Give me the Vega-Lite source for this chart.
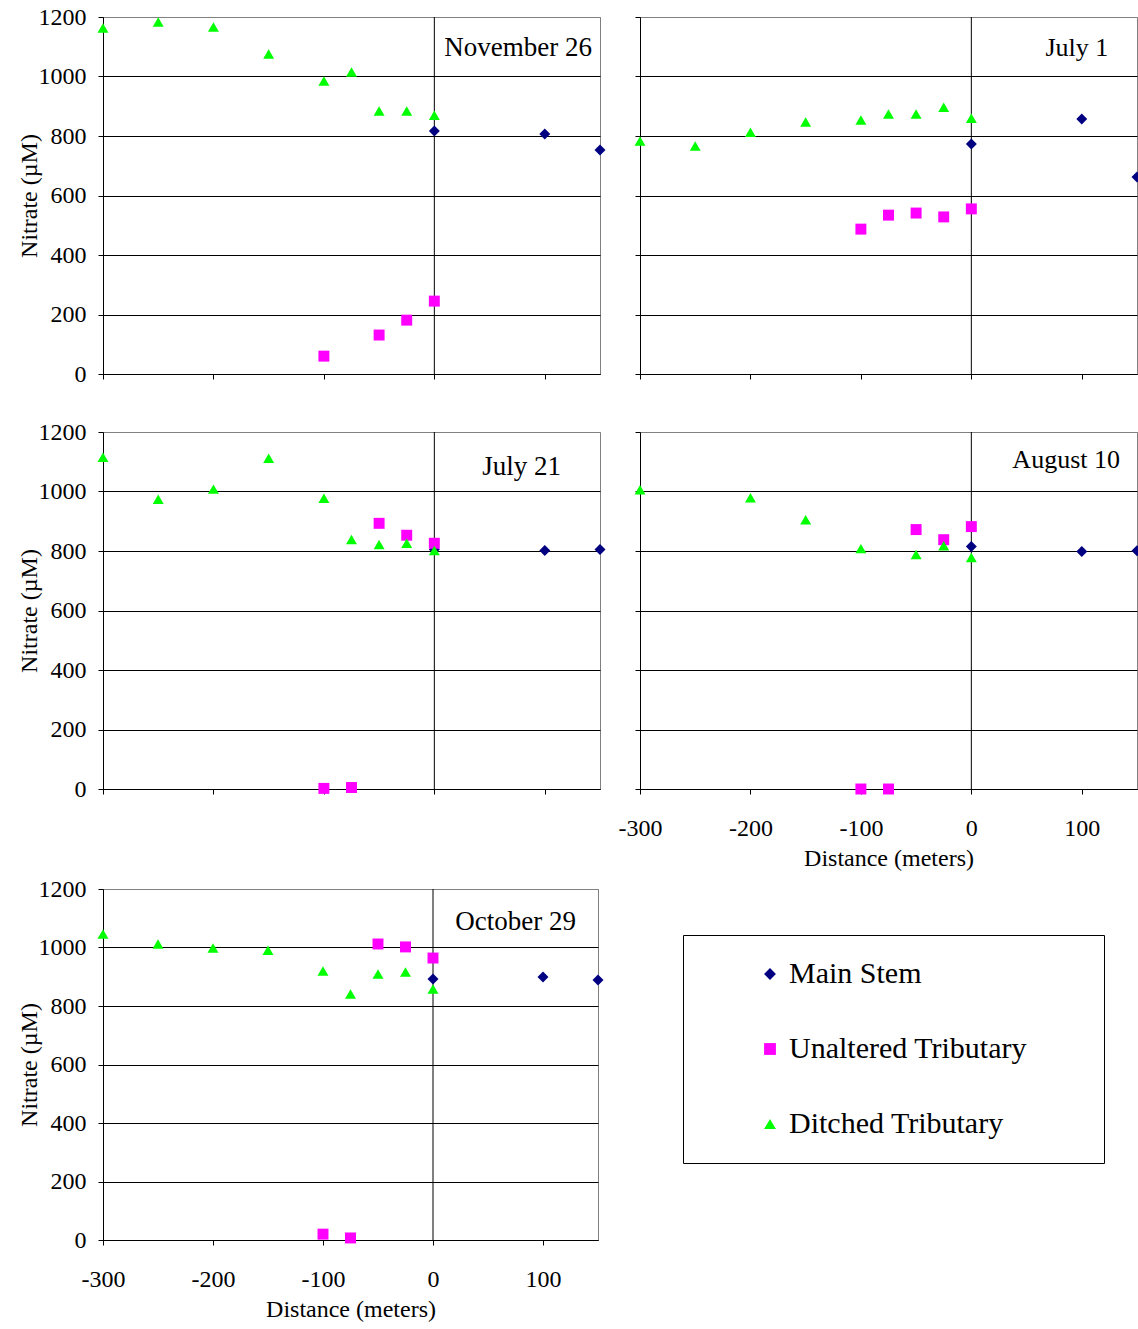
{
  "$schema": "https://vega.github.io/schema/vega-lite/v6.json",
  "background": "white",
  "padding": {"left": 16, "top": 4, "right": 0, "bottom": 0},
  "autosize": {"type": "pad"},
  "config": {
    "font": "Liberation Serif",
    "view": {"stroke": "#808080", "strokeWidth": 1},
    "axis": {
      "labelFont": "Liberation Serif", "titleFont": "Liberation Serif",
      "labelFontSize": 24, "titleFontSize": 24, "titleFontWeight": "normal",
      "labelColor": "black", "titleColor": "black",
      "domainColor": "black", "tickColor": "black", "tickSize": 5, "gridColor": "black", "gridOpacity": 1,
      "domainWidth": 1, "tickWidth": 1, "gridWidth": 1, "labelFlush": false, "labelOverlap": false
    }
  },
  "datasets": {
    "nitrate": [
      {"date": "November 26", "series": "Main Stem", "distance": 0, "nitrate": 817},
      {"date": "November 26", "series": "Main Stem", "distance": 100, "nitrate": 807},
      {"date": "November 26", "series": "Main Stem", "distance": 150, "nitrate": 753},
      {"date": "November 26", "series": "Unaltered Tributary", "distance": -100, "nitrate": 60},
      {"date": "November 26", "series": "Unaltered Tributary", "distance": -50, "nitrate": 131},
      {"date": "November 26", "series": "Unaltered Tributary", "distance": -25, "nitrate": 181},
      {"date": "November 26", "series": "Unaltered Tributary", "distance": 0, "nitrate": 245},
      {"date": "November 26", "series": "Ditched Tributary", "distance": -300, "nitrate": 1163},
      {"date": "November 26", "series": "Ditched Tributary", "distance": -250, "nitrate": 1183},
      {"date": "November 26", "series": "Ditched Tributary", "distance": -200, "nitrate": 1166},
      {"date": "November 26", "series": "Ditched Tributary", "distance": -150, "nitrate": 1076},
      {"date": "November 26", "series": "Ditched Tributary", "distance": -100, "nitrate": 985},
      {"date": "November 26", "series": "Ditched Tributary", "distance": -75, "nitrate": 1015},
      {"date": "November 26", "series": "Ditched Tributary", "distance": -50, "nitrate": 884},
      {"date": "November 26", "series": "Ditched Tributary", "distance": -25, "nitrate": 884},
      {"date": "November 26", "series": "Ditched Tributary", "distance": 0, "nitrate": 870},

      {"date": "July 1", "series": "Main Stem", "distance": 0, "nitrate": 773},
      {"date": "July 1", "series": "Main Stem", "distance": 100, "nitrate": 857},
      {"date": "July 1", "series": "Main Stem", "distance": 150, "nitrate": 662},
      {"date": "July 1", "series": "Unaltered Tributary", "distance": -100, "nitrate": 487},
      {"date": "July 1", "series": "Unaltered Tributary", "distance": -75, "nitrate": 534},
      {"date": "July 1", "series": "Unaltered Tributary", "distance": -50, "nitrate": 541},
      {"date": "July 1", "series": "Unaltered Tributary", "distance": -25, "nitrate": 528},
      {"date": "July 1", "series": "Unaltered Tributary", "distance": 0, "nitrate": 555},
      {"date": "July 1", "series": "Ditched Tributary", "distance": -300, "nitrate": 783},
      {"date": "July 1", "series": "Ditched Tributary", "distance": -250, "nitrate": 766},
      {"date": "July 1", "series": "Ditched Tributary", "distance": -200, "nitrate": 813},
      {"date": "July 1", "series": "Ditched Tributary", "distance": -150, "nitrate": 847},
      {"date": "July 1", "series": "Ditched Tributary", "distance": -100, "nitrate": 854},
      {"date": "July 1", "series": "Ditched Tributary", "distance": -75, "nitrate": 874},
      {"date": "July 1", "series": "Ditched Tributary", "distance": -50, "nitrate": 874},
      {"date": "July 1", "series": "Ditched Tributary", "distance": -25, "nitrate": 897},
      {"date": "July 1", "series": "Ditched Tributary", "distance": 0, "nitrate": 860},

      {"date": "July 21", "series": "Main Stem", "distance": 0, "nitrate": 805},
      {"date": "July 21", "series": "Main Stem", "distance": 100, "nitrate": 802},
      {"date": "July 21", "series": "Main Stem", "distance": 150, "nitrate": 805},
      {"date": "July 21", "series": "Unaltered Tributary", "distance": -100, "nitrate": 2},
      {"date": "July 21", "series": "Unaltered Tributary", "distance": -75, "nitrate": 5},
      {"date": "July 21", "series": "Unaltered Tributary", "distance": -50, "nitrate": 893},
      {"date": "July 21", "series": "Unaltered Tributary", "distance": -25, "nitrate": 853},
      {"date": "July 21", "series": "Unaltered Tributary", "distance": 0, "nitrate": 826},
      {"date": "July 21", "series": "Ditched Tributary", "distance": -300, "nitrate": 1115},
      {"date": "July 21", "series": "Ditched Tributary", "distance": -250, "nitrate": 974},
      {"date": "July 21", "series": "Ditched Tributary", "distance": -200, "nitrate": 1008},
      {"date": "July 21", "series": "Ditched Tributary", "distance": -150, "nitrate": 1112},
      {"date": "July 21", "series": "Ditched Tributary", "distance": -100, "nitrate": 977},
      {"date": "July 21", "series": "Ditched Tributary", "distance": -75, "nitrate": 839},
      {"date": "July 21", "series": "Ditched Tributary", "distance": -50, "nitrate": 822},
      {"date": "July 21", "series": "Ditched Tributary", "distance": -25, "nitrate": 826},
      {"date": "July 21", "series": "Ditched Tributary", "distance": 0, "nitrate": 802},

      {"date": "August 10", "series": "Main Stem", "distance": 0, "nitrate": 815},
      {"date": "August 10", "series": "Main Stem", "distance": 100, "nitrate": 798},
      {"date": "August 10", "series": "Main Stem", "distance": 150, "nitrate": 801},
      {"date": "August 10", "series": "Unaltered Tributary", "distance": -100, "nitrate": 0},
      {"date": "August 10", "series": "Unaltered Tributary", "distance": -75, "nitrate": 0},
      {"date": "August 10", "series": "Unaltered Tributary", "distance": -50, "nitrate": 872},
      {"date": "August 10", "series": "Unaltered Tributary", "distance": -25, "nitrate": 838},
      {"date": "August 10", "series": "Unaltered Tributary", "distance": 0, "nitrate": 882},
      {"date": "August 10", "series": "Ditched Tributary", "distance": -300, "nitrate": 1006},
      {"date": "August 10", "series": "Ditched Tributary", "distance": -200, "nitrate": 979},
      {"date": "August 10", "series": "Ditched Tributary", "distance": -150, "nitrate": 905},
      {"date": "August 10", "series": "Ditched Tributary", "distance": -100, "nitrate": 808},
      {"date": "August 10", "series": "Ditched Tributary", "distance": -50, "nitrate": 788},
      {"date": "August 10", "series": "Ditched Tributary", "distance": -25, "nitrate": 818},
      {"date": "August 10", "series": "Ditched Tributary", "distance": 0, "nitrate": 778},

      {"date": "October 29", "series": "Main Stem", "distance": 0, "nitrate": 892},
      {"date": "October 29", "series": "Main Stem", "distance": 100, "nitrate": 899},
      {"date": "October 29", "series": "Main Stem", "distance": 150, "nitrate": 889},
      {"date": "October 29", "series": "Unaltered Tributary", "distance": -100, "nitrate": 20},
      {"date": "October 29", "series": "Unaltered Tributary", "distance": -75, "nitrate": 7},
      {"date": "October 29", "series": "Unaltered Tributary", "distance": -50, "nitrate": 1012},
      {"date": "October 29", "series": "Unaltered Tributary", "distance": -25, "nitrate": 1002},
      {"date": "October 29", "series": "Unaltered Tributary", "distance": 0, "nitrate": 964},
      {"date": "October 29", "series": "Ditched Tributary", "distance": -300, "nitrate": 1046},
      {"date": "October 29", "series": "Ditched Tributary", "distance": -250, "nitrate": 1012},
      {"date": "October 29", "series": "Ditched Tributary", "distance": -200, "nitrate": 998},
      {"date": "October 29", "series": "Ditched Tributary", "distance": -150, "nitrate": 991},
      {"date": "October 29", "series": "Ditched Tributary", "distance": -100, "nitrate": 920},
      {"date": "October 29", "series": "Ditched Tributary", "distance": -75, "nitrate": 841},
      {"date": "October 29", "series": "Ditched Tributary", "distance": -50, "nitrate": 909},
      {"date": "October 29", "series": "Ditched Tributary", "distance": -25, "nitrate": 916},
      {"date": "October 29", "series": "Ditched Tributary", "distance": 0, "nitrate": 858}
    ]
  },
  "spacing": 5,
  "vconcat": [
    {
      "spacing": 32,
      "vconcat": [
        {
          "bounds": "flush",
          "spacing": 40,
          "hconcat": [
            {
              "width": 497, "height": 357,
              "data": {"values": [{"date": "November 26"}]},
              "layer": [
                {"mark": {"type": "rule", "color": "black"}, "encoding": {"x": {"datum": 0, "type": "quantitative"}}},
                {
                  "data": {"name": "nitrate"},
                  "transform": [{"filter": "datum.date === 'November 26'"}],
                  "mark": {"type": "point", "filled": true, "opacity": 1, "strokeWidth": 0, "size": 120},
                  "encoding": {
                    "x": {"field": "distance", "type": "quantitative", "scale": {"domain": [-300, 150], "nice": false, "zero": false},
                          "axis": {"values": [-300, -200, -100, 0, 100], "labels": false, "title": null, "grid": false}},
                    "y": {"field": "nitrate", "type": "quantitative", "scale": {"domain": [0, 1200], "nice": false},
                          "axis": {"values": [0, 200, 400, 600, 800, 1000, 1200], "labelExpr": "'' + datum.value", "title": "Nitrate (µM)", "labelPadding": 12, "titlePadding": -3, "grid": true,
                                   "gridColor": {"condition": {"test": "datum.value >= 1200", "value": "#808080"}, "value": "black"}}},
                    "color": {"field": "series", "type": "nominal",
                              "scale": {"domain": ["Main Stem", "Unaltered Tributary", "Ditched Tributary"], "range": ["#000080", "#FF00FF", "#00FF00"]},
                              "legend": {"title": null, "orient": "none", "legendX": 580, "legendY": 918, "strokeColor": "black", "padding": 24,
                                         "labelFont": "Liberation Serif", "labelFontSize": 30, "labelColor": "black", "labelLimit": 600, "symbolSize": 140,
                                         "rowPadding": 45, "symbolOffset": 48, "labelOffset": 4,
                                         "labelExpr": "datum.label + '\u00a0\u00a0\u00a0\u00a0\u00a0\u00a0\u00a0\u200b'"}},
                    "shape": {"field": "series", "type": "nominal",
                              "scale": {"domain": ["Main Stem", "Unaltered Tributary", "Ditched Tributary"], "range": ["diamond", "square", "triangle-up"]},
                              "legend": {"title": null, "orient": "none", "legendX": 580, "legendY": 918, "strokeColor": "black", "padding": 24,
                                         "labelFont": "Liberation Serif", "labelFontSize": 30, "labelColor": "black", "labelLimit": 600, "symbolSize": 140,
                                         "rowPadding": 45, "symbolOffset": 48, "labelOffset": 4,
                                         "labelExpr": "datum.label + '\u00a0\u00a0\u00a0\u00a0\u00a0\u00a0\u00a0\u200b'"}}
                  }
                },
                {"mark": {"type": "text", "fontSize": 27, "align": "right", "baseline": "middle", "color": "black"},
                 "encoding": {"text": {"field": "date"}, "x": {"datum": 142.8, "type": "quantitative"}, "y": {"datum": 1096, "type": "quantitative"}}}
              ]
            },
            {
              "width": 497, "height": 357,
              "data": {"values": [{"date": "July 1"}]},
              "layer": [
                {"mark": {"type": "rule", "color": "black"}, "encoding": {"x": {"datum": 0, "type": "quantitative"}}},
                {
                  "data": {"name": "nitrate"},
                  "transform": [{"filter": "datum.date === 'July 1'"}],
                  "mark": {"type": "point", "filled": true, "opacity": 1, "strokeWidth": 0, "size": 120},
                  "encoding": {
                    "x": {"field": "distance", "type": "quantitative", "scale": {"domain": [-300, 150], "nice": false, "zero": false},
                          "axis": {"values": [-300, -200, -100, 0, 100], "labels": false, "title": null, "grid": false}},
                    "y": {"field": "nitrate", "type": "quantitative", "scale": {"domain": [0, 1200], "nice": false},
                          "axis": {"values": [0, 200, 400, 600, 800, 1000, 1200], "labels": false, "title": null, "grid": true,
                                   "gridColor": {"condition": {"test": "datum.value >= 1200", "value": "#808080"}, "value": "black"}}},
                    "color": {"field": "series", "type": "nominal",
                              "scale": {"domain": ["Main Stem", "Unaltered Tributary", "Ditched Tributary"], "range": ["#000080", "#FF00FF", "#00FF00"]}},
                    "shape": {"field": "series", "type": "nominal",
                              "scale": {"domain": ["Main Stem", "Unaltered Tributary", "Ditched Tributary"], "range": ["diamond", "square", "triangle-up"]}}
                  }
                },
                {"mark": {"type": "text", "fontSize": 26, "align": "right", "baseline": "middle", "color": "black"},
                 "encoding": {"text": {"field": "date"}, "x": {"datum": 124, "type": "quantitative"}, "y": {"datum": 1095, "type": "quantitative"}}}
              ]
            }
          ]
        },
        {
          "bounds": "flush",
          "spacing": 40,
          "hconcat": [
            {
              "width": 497, "height": 357,
              "data": {"values": [{"date": "July 21"}]},
              "layer": [
                {"mark": {"type": "rule", "color": "black"}, "encoding": {"x": {"datum": 0, "type": "quantitative"}}},
                {
                  "data": {"name": "nitrate"},
                  "transform": [{"filter": "datum.date === 'July 21'"}],
                  "mark": {"type": "point", "filled": true, "opacity": 1, "strokeWidth": 0, "size": 120},
                  "encoding": {
                    "x": {"field": "distance", "type": "quantitative", "scale": {"domain": [-300, 150], "nice": false, "zero": false},
                          "axis": {"values": [-300, -200, -100, 0, 100], "labels": false, "title": null, "grid": false}},
                    "y": {"field": "nitrate", "type": "quantitative", "scale": {"domain": [0, 1200], "nice": false},
                          "axis": {"values": [0, 200, 400, 600, 800, 1000, 1200], "labelExpr": "'' + datum.value", "title": "Nitrate (µM)", "labelPadding": 12, "titlePadding": -3, "grid": true,
                                   "gridColor": {"condition": {"test": "datum.value >= 1200", "value": "#808080"}, "value": "black"}}},
                    "color": {"field": "series", "type": "nominal",
                              "scale": {"domain": ["Main Stem", "Unaltered Tributary", "Ditched Tributary"], "range": ["#000080", "#FF00FF", "#00FF00"]}},
                    "shape": {"field": "series", "type": "nominal",
                              "scale": {"domain": ["Main Stem", "Unaltered Tributary", "Ditched Tributary"], "range": ["diamond", "square", "triangle-up"]}}
                  }
                },
                {"mark": {"type": "text", "fontSize": 27, "align": "right", "baseline": "middle", "color": "black"},
                 "encoding": {"text": {"field": "date"}, "x": {"datum": 114.7, "type": "quantitative"}, "y": {"datum": 1082, "type": "quantitative"}}}
              ]
            },
            {
              "width": 497, "height": 357,
              "data": {"values": [{"date": "August 10"}]},
              "layer": [
                {"mark": {"type": "rule", "color": "black"}, "encoding": {"x": {"datum": 0, "type": "quantitative"}}},
                {
                  "data": {"name": "nitrate"},
                  "transform": [{"filter": "datum.date === 'August 10'"}],
                  "mark": {"type": "point", "filled": true, "opacity": 1, "strokeWidth": 0, "size": 120},
                  "encoding": {
                    "x": {"field": "distance", "type": "quantitative", "scale": {"domain": [-300, 150], "nice": false, "zero": false},
                          "axis": {"values": [-300, -200, -100, 0, 100], "labelExpr": "'' + datum.value", "title": "Distance (meters)", "labelPadding": 22, "titlePadding": 6, "grid": false}},
                    "y": {"field": "nitrate", "type": "quantitative", "scale": {"domain": [0, 1200], "nice": false},
                          "axis": {"values": [0, 200, 400, 600, 800, 1000, 1200], "labels": false, "title": null, "grid": true,
                                   "gridColor": {"condition": {"test": "datum.value >= 1200", "value": "#808080"}, "value": "black"}}},
                    "color": {"field": "series", "type": "nominal",
                              "scale": {"domain": ["Main Stem", "Unaltered Tributary", "Ditched Tributary"], "range": ["#000080", "#FF00FF", "#00FF00"]}},
                    "shape": {"field": "series", "type": "nominal",
                              "scale": {"domain": ["Main Stem", "Unaltered Tributary", "Ditched Tributary"], "range": ["diamond", "square", "triangle-up"]}}
                  }
                },
                {"mark": {"type": "text", "fontSize": 26, "align": "right", "baseline": "middle", "color": "black"},
                 "encoding": {"text": {"field": "date"}, "x": {"datum": 134.6, "type": "quantitative"}, "y": {"datum": 1106, "type": "quantitative"}}}
              ]
            }
          ]
        }
      ]
    },
    {
      "width": 495, "height": 351,
      "data": {"values": [{"date": "October 29"}]},
      "layer": [
        {"mark": {"type": "rule", "color": "black"}, "encoding": {"x": {"datum": 0, "type": "quantitative"}}},
        {
          "data": {"name": "nitrate"},
          "transform": [{"filter": "datum.date === 'October 29'"}],
          "mark": {"type": "point", "filled": true, "opacity": 1, "strokeWidth": 0, "size": 120},
          "encoding": {
            "x": {"field": "distance", "type": "quantitative", "scale": {"domain": [-300, 150], "nice": false, "zero": false},
                  "axis": {"values": [-300, -200, -100, 0, 100], "labelExpr": "'' + datum.value", "title": "Distance (meters)", "labelPadding": 22, "titlePadding": 6, "grid": false}},
            "y": {"field": "nitrate", "type": "quantitative", "scale": {"domain": [0, 1200], "nice": false},
                  "axis": {"values": [0, 200, 400, 600, 800, 1000, 1200], "labelExpr": "'' + datum.value", "title": "Nitrate (µM)", "labelPadding": 12, "titlePadding": -3, "grid": true,
                           "gridColor": {"condition": {"test": "datum.value >= 1200", "value": "#808080"}, "value": "black"}}},
            "color": {"field": "series", "type": "nominal",
                      "scale": {"domain": ["Main Stem", "Unaltered Tributary", "Ditched Tributary"], "range": ["#000080", "#FF00FF", "#00FF00"]}},
            "shape": {"field": "series", "type": "nominal",
                      "scale": {"domain": ["Main Stem", "Unaltered Tributary", "Ditched Tributary"], "range": ["diamond", "square", "triangle-up"]}}
          }
        },
        {"mark": {"type": "text", "fontSize": 27, "align": "right", "baseline": "middle", "color": "black"},
         "encoding": {"text": {"field": "date"}, "x": {"datum": 130, "type": "quantitative"}, "y": {"datum": 1087, "type": "quantitative"}}}
      ]
    }
  ]
}
